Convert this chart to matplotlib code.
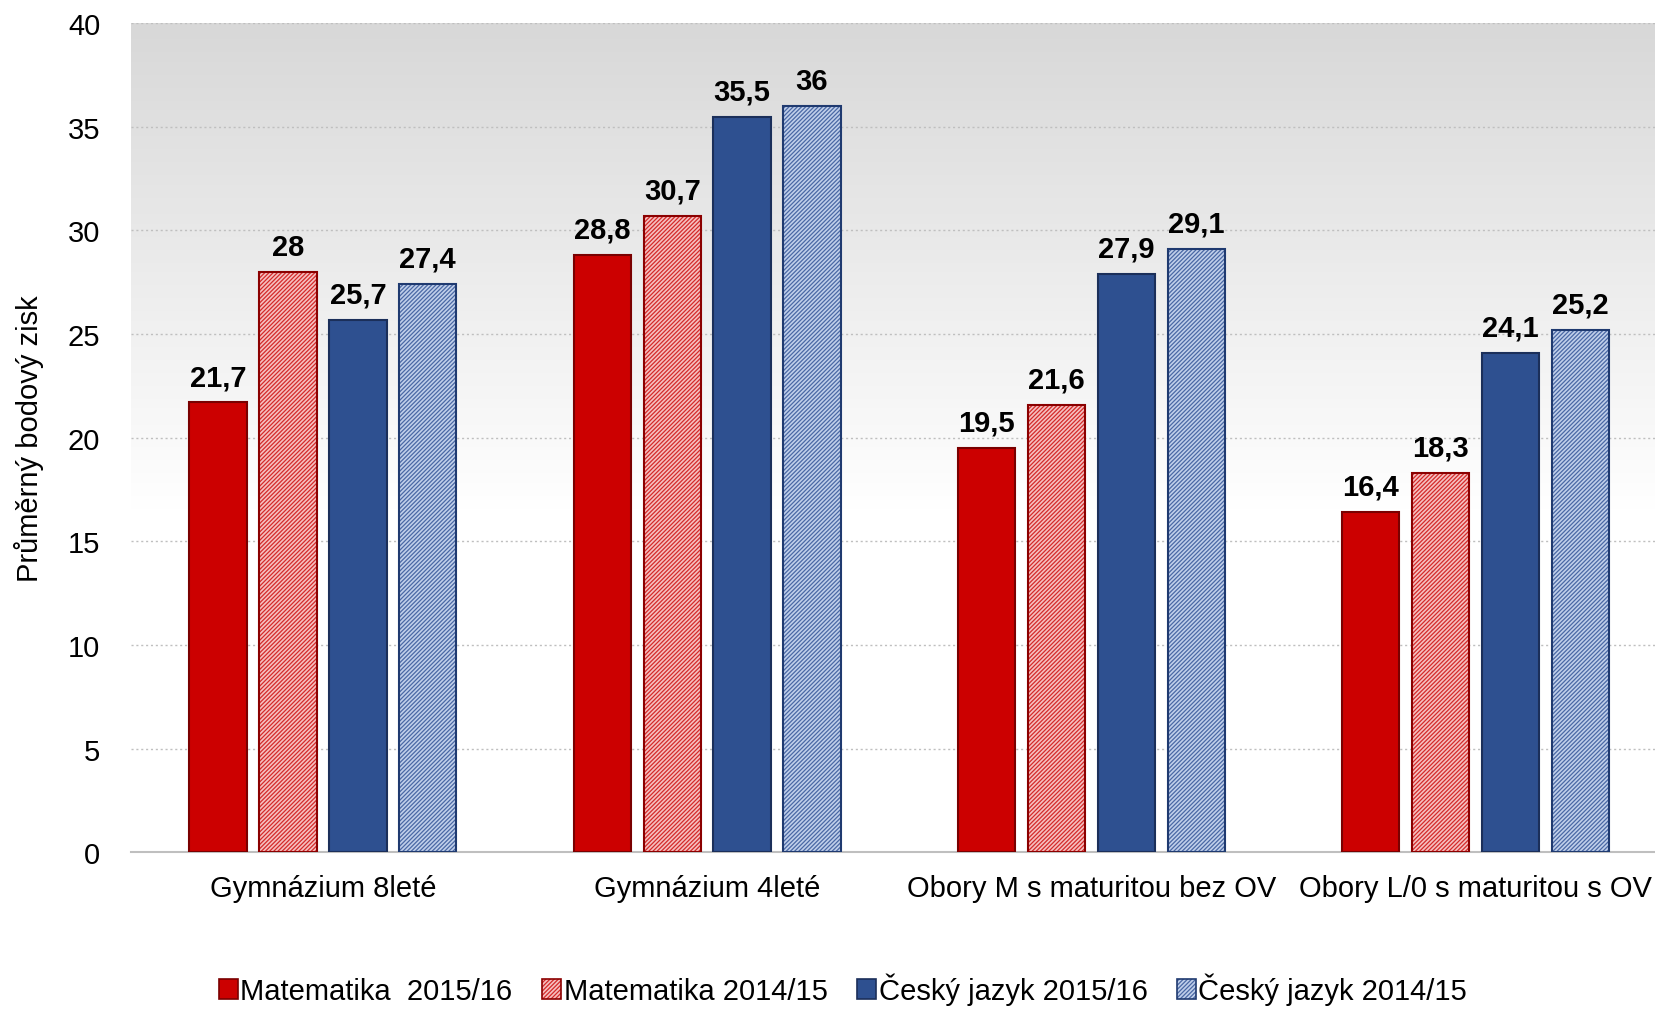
import numpy as np
import matplotlib.pyplot as plt
import matplotlib as mpl
from matplotlib.patches import Patch

plt.rcParams['font.family'] = ['Liberation Sans', 'DejaVu Sans']
mpl.rcParams['hatch.linewidth'] = 0.9

categories = ['Gymnázium 8leté', 'Gymnázium 4leté', 'Obory M s maturitou bez OV', 'Obory L/0 s maturitou s OV']
series_names = ['Matematika  2015/16', 'Matematika 2014/15', 'Český jazyk 2015/16', 'Český jazyk 2014/15']
mat_1516 = [21.7, 28.8, 19.5, 16.4]
mat_1415 = [28.0, 30.7, 21.6, 18.3]
cj_1516 = [25.7, 35.5, 27.9, 24.1]
cj_1415 = [27.4, 36.0, 29.1, 25.2]
values = [mat_1516, mat_1415, cj_1516, cj_1415]

faces = ['#cc0000', '#f5c0c0', '#2e5090', '#c0cfea']
edges = ['#7a0000', '#8b0000', '#1b2f5a', '#1f3a70']
hatches = [None, '////////', None, '////////']
hatch_cols = [None, '#d42a2a', None, '#4a68a5']

fig = plt.figure(figsize=(16.56, 10.12), dpi=100)
ax = fig.add_axes([0.079, 0.157, 0.928, 0.819])

# background gradient: gray at top fading to white lower down
grad = np.linspace(0, 1, 256).reshape(-1, 1)
grad = np.clip(grad * 1.7, 0, 1)
cmap = mpl.colors.LinearSegmentedColormap.from_list('bg', ['#d8d8d8', '#ffffff'])
ax.imshow(grad, extent=[-0.5, 3.5, 0, 40], origin='upper', aspect='auto', cmap=cmap, zorder=0)

x = np.arange(len(categories))
width = 0.149
pitch = 0.182
offsets = [-1.5 * pitch, -0.5 * pitch, 0.5 * pitch, 1.5 * pitch]

for i, vals in enumerate(values):
    bars = ax.bar(x + offsets[i], vals, width, color=faces[i], edgecolor=edges[i],
                  linewidth=1.5, zorder=3)
    if hatches[i]:
        for b in bars:
            b.set_hatch(hatches[i])
            b._hatch_color = mpl.colors.to_rgba(hatch_cols[i])
    for xi, v in zip(x + offsets[i], vals):
        lbl = ('%g' % v).replace('.', ',')
        ax.text(xi, v + 0.55, lbl, ha='center', va='bottom', fontsize=21,
                fontweight='bold', zorder=4)

ax.set_xlim(-0.5, 3.5)
ax.set_ylim(0, 40)
ax.set_yticks(range(0, 41, 5))
ax.set_xticks(x)
ax.set_xticklabels(categories)
ax.tick_params(axis='both', length=0, labelsize=21, colors='black')
ax.tick_params(axis='x', pad=16)
ax.tick_params(axis='y', pad=22)
ax.yaxis.grid(True, linestyle=(0, (1.5, 2)), color='#bfbfbf', linewidth=1, zorder=1)
ax.set_axisbelow(True)
for s in ['top', 'right', 'left']:
    ax.spines[s].set_visible(False)
ax.spines['bottom'].set_color('#bfbfbf')
ax.spines['bottom'].set_linewidth(1.5)
ax.set_ylabel('Průměrný bodový zisk', fontsize=21, labelpad=17)

handles = []
for i in range(4):
    p = Patch(facecolor=faces[i], edgecolor=edges[i], hatch=hatches[i], linewidth=1.2)
    if hatches[i]:
        p._hatch_color = mpl.colors.to_rgba(hatch_cols[i])
    handles.append(p)
fig.legend(handles, series_names, loc='lower center', bbox_to_anchor=(0.509, -0.02),
           ncol=4, frameon=False, fontsize=21, handlelength=0.65, handleheight=0.7,
           handletextpad=0.1, columnspacing=1.0)

fig.savefig('out.png', dpi=100)
